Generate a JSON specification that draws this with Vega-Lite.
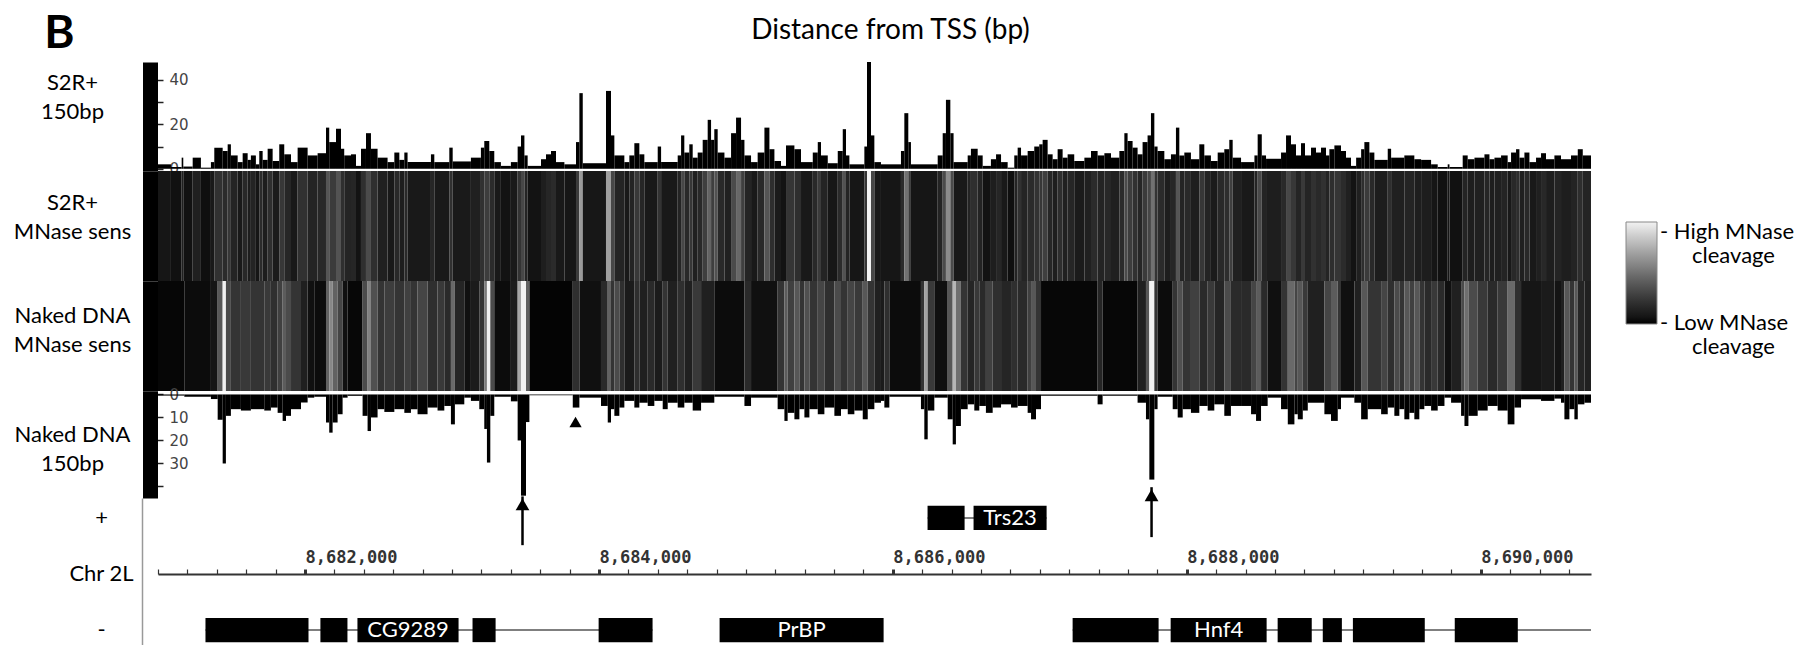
{
"$schema": "https://vega.github.io/schema/vega-lite/v6.json",
"padding": {"left": 13, "top": 10, "right": 5, "bottom": 0},
"bounds": "flush",
"spacing": 0,
"title": {"text": "B", "anchor": "start", "frame": "bounds", "font": "Lato", "fontSize": 46, "fontWeight": "bold", "color": "black", "offset": 0, "dy": 40.5, "dx": 31},
"resolve": {"scale": {"color": "independent"}},
"config": {"view": {"stroke": null}, "axis": {"grid": false}, "text": {"font": "Lato"}},
"datasets": {
"s2r": [
{"s":8681000,"e":8681088,"v":2},{"s":8681088,"e":8681161,"v":0.8},{"s":8681161,"e":8681172,"v":5},{"s":8681172,"e":8681236,"v":1},{"s":8681236,"e":8681292,"v":5},{"s":8681292,"e":8681360,"v":0.5},{"s":8681360,"e":8681383,"v":3},{"s":8681383,"e":8681440,"v":9.5},{"s":8681440,"e":8681474,"v":8},{"s":8681474,"e":8681496,"v":11},{"s":8681496,"e":8681542,"v":6},{"s":8681542,"e":8681576,"v":3},{"s":8681576,"e":8681610,"v":7},{"s":8681610,"e":8681632,"v":4},{"s":8681632,"e":8681666,"v":6},{"s":8681666,"e":8681689,"v":2},{"s":8681689,"e":8681712,"v":8},{"s":8681712,"e":8681746,"v":4},{"s":8681746,"e":8681780,"v":9},{"s":8681780,"e":8681825,"v":3.5},{"s":8681825,"e":8681859,"v":11},{"s":8681859,"e":8681905,"v":6.5},{"s":8681905,"e":8681950,"v":3},{"s":8681950,"e":8682018,"v":9.5},{"s":8682018,"e":8682086,"v":6},{"s":8682086,"e":8682143,"v":7},{"s":8682143,"e":8682165,"v":18.5},{"s":8682165,"e":8682211,"v":12},{"s":8682211,"e":8682245,"v":18},{"s":8682245,"e":8682267,"v":9},{"s":8682267,"e":8682313,"v":6},{"s":8682313,"e":8682347,"v":6.5},{"s":8682347,"e":8682381,"v":1.3},{"s":8682381,"e":8682415,"v":9},{"s":8682415,"e":8682449,"v":16},{"s":8682449,"e":8682494,"v":9},{"s":8682494,"e":8682562,"v":5},{"s":8682562,"e":8682608,"v":3},{"s":8682608,"e":8682642,"v":7.3},{"s":8682642,"e":8682676,"v":4},{"s":8682676,"e":8682698,"v":7.3},{"s":8682698,"e":8682857,"v":3},{"s":8682857,"e":8682880,"v":6.5},{"s":8682880,"e":8682982,"v":3},{"s":8682982,"e":8683005,"v":9.5},{"s":8683005,"e":8683129,"v":3.3},{"s":8683129,"e":8683197,"v":5},{"s":8683197,"e":8683220,"v":9.5},{"s":8683220,"e":8683254,"v":12.5},{"s":8683254,"e":8683288,"v":8},{"s":8683288,"e":8683333,"v":3},{"s":8683333,"e":8683401,"v":1.3},
{"s":8683401,"e":8683447,"v":3},{"s":8683447,"e":8683470,"v":10},{"s":8683470,"e":8683493,"v":15},{"s":8683493,"e":8683515,"v":6},{"s":8683515,"e":8683606,"v":1.3},{"s":8683606,"e":8683640,"v":4.3},{"s":8683640,"e":8683674,"v":6.5},{"s":8683674,"e":8683708,"v":8},{"s":8683708,"e":8683765,"v":3},{"s":8683765,"e":8683844,"v":2},{"s":8683844,"e":8683867,"v":12},{"s":8683867,"e":8683890,"v":34},{"s":8683890,"e":8684048,"v":2.5},{"s":8684048,"e":8684082,"v":35},{"s":8684082,"e":8684105,"v":15},{"s":8684105,"e":8684173,"v":6},{"s":8684173,"e":8684207,"v":3},{"s":8684207,"e":8684241,"v":6},{"s":8684241,"e":8684275,"v":11.5},{"s":8684275,"e":8684309,"v":6.5},{"s":8684309,"e":8684400,"v":3},{"s":8684400,"e":8684423,"v":10},{"s":8684423,"e":8684536,"v":3},{"s":8684536,"e":8684559,"v":6},{"s":8684559,"e":8684581,"v":15},{"s":8684581,"e":8684615,"v":7.3},{"s":8684615,"e":8684638,"v":11},{"s":8684638,"e":8684672,"v":5},{"s":8684672,"e":8684706,"v":7.3},{"s":8684706,"e":8684740,"v":13},{"s":8684740,"e":8684763,"v":22},{"s":8684763,"e":8684785,"v":13},{"s":8684785,"e":8684808,"v":17.8},{"s":8684808,"e":8684854,"v":7.3},{"s":8684854,"e":8684899,"v":5},{"s":8684899,"e":8684933,"v":16},{"s":8684933,"e":8684967,"v":23},{"s":8684967,"e":8684990,"v":13},{"s":8684990,"e":8685035,"v":6},{"s":8685035,"e":8685080,"v":3},{"s":8685080,"e":8685126,"v":7.3},{"s":8685126,"e":8685160,"v":18.5},{"s":8685160,"e":8685194,"v":8.8},{"s":8685194,"e":8685239,"v":3.5},{"s":8685239,"e":8685273,"v":1.3},{"s":8685273,"e":8685330,"v":10.5},{"s":8685330,"e":8685375,"v":8.8},{"s":8685375,"e":8685455,"v":3},{"s":8685455,"e":8685489,"v":7.3},{"s":8685489,"e":8685511,"v":12},{"s":8685511,"e":8685557,"v":6},{"s":8685557,"e":8685625,"v":2.5},{"s":8685625,"e":8685659,"v":8},{"s":8685659,"e":8685681,"v":17.8},{"s":8685681,"e":8685704,"v":6},{"s":8685704,"e":8685806,"v":2},{"s":8685806,"e":8685824,"v":10},{"s":8685824,"e":8685851,"v":52},{"s":8685851,"e":8685874,"v":15},{"s":8685874,"e":8685919,"v":3},
{"s":8685919,"e":8686055,"v":2},{"s":8686055,"e":8686078,"v":8},{"s":8686078,"e":8686105,"v":25},{"s":8686105,"e":8686123,"v":12},{"s":8686123,"e":8686305,"v":2},{"s":8686305,"e":8686339,"v":6},{"s":8686339,"e":8686361,"v":16},{"s":8686361,"e":8686391,"v":31},{"s":8686391,"e":8686413,"v":16},{"s":8686413,"e":8686509,"v":3},{"s":8686509,"e":8686531,"v":6},{"s":8686531,"e":8686577,"v":9},{"s":8686577,"e":8686611,"v":6},{"s":8686611,"e":8686667,"v":1.3},{"s":8686667,"e":8686702,"v":4.3},{"s":8686702,"e":8686736,"v":6.5},{"s":8686736,"e":8686781,"v":3},{"s":8686781,"e":8686826,"v":0.5},{"s":8686826,"e":8686849,"v":6},{"s":8686849,"e":8686872,"v":9.5},{"s":8686872,"e":8686917,"v":6},{"s":8686917,"e":8686962,"v":8},{"s":8686962,"e":8686996,"v":10},{"s":8686996,"e":8687019,"v":11},{"s":8687019,"e":8687053,"v":13},{"s":8687053,"e":8687087,"v":6.5},{"s":8687087,"e":8687121,"v":4.3},{"s":8687121,"e":8687155,"v":8.8},{"s":8687155,"e":8687189,"v":5},{"s":8687189,"e":8687234,"v":6.5},{"s":8687234,"e":8687303,"v":3.5},{"s":8687303,"e":8687348,"v":5},{"s":8687348,"e":8687393,"v":8},{"s":8687393,"e":8687439,"v":6},{"s":8687439,"e":8687484,"v":7},{"s":8687484,"e":8687541,"v":5},{"s":8687541,"e":8687575,"v":8},{"s":8687575,"e":8687597,"v":16},{"s":8687597,"e":8687631,"v":12.5},{"s":8687631,"e":8687665,"v":9.5},{"s":8687665,"e":8687699,"v":6.5},{"s":8687699,"e":8687733,"v":12},{"s":8687733,"e":8687756,"v":15},{"s":8687756,"e":8687779,"v":25},{"s":8687779,"e":8687801,"v":10},{"s":8687801,"e":8687847,"v":8},{"s":8687847,"e":8687892,"v":4.3},{"s":8687892,"e":8687926,"v":6.5},{"s":8687926,"e":8687949,"v":18.5},{"s":8687949,"e":8687983,"v":6},{"s":8687983,"e":8688028,"v":7.3},{"s":8688028,"e":8688085,"v":4.3},{"s":8688085,"e":8688119,"v":11},{"s":8688119,"e":8688164,"v":6},{"s":8688164,"e":8688210,"v":3.5},{"s":8688210,"e":8688255,"v":7.3},{"s":8688255,"e":8688289,"v":8.8},{"s":8688289,"e":8688312,"v":13},{"s":8688312,"e":8688369,"v":5},
{"s":8688369,"e":8688460,"v":3},{"s":8688460,"e":8688482,"v":6},{"s":8688482,"e":8688510,"v":15.5},{"s":8688510,"e":8688539,"v":6},{"s":8688539,"e":8688641,"v":4.5},{"s":8688641,"e":8688675,"v":7.3},{"s":8688675,"e":8688709,"v":15},{"s":8688709,"e":8688743,"v":11},{"s":8688743,"e":8688777,"v":6},{"s":8688777,"e":8688804,"v":11.5},{"s":8688804,"e":8688845,"v":6},{"s":8688845,"e":8688879,"v":9.5},{"s":8688879,"e":8688913,"v":7.3},{"s":8688913,"e":8688947,"v":9.5},{"s":8688947,"e":8688970,"v":6},{"s":8688970,"e":8689004,"v":8.8},{"s":8689004,"e":8689049,"v":10.5},{"s":8689049,"e":8689083,"v":8},{"s":8689083,"e":8689117,"v":5},{"s":8689117,"e":8689152,"v":1.3},{"s":8689152,"e":8689186,"v":5},{"s":8689186,"e":8689208,"v":8.8},{"s":8689208,"e":8689242,"v":12},{"s":8689242,"e":8689276,"v":7.3},{"s":8689276,"e":8689367,"v":4},{"s":8689367,"e":8689390,"v":9},{"s":8689390,"e":8689480,"v":5},{"s":8689480,"e":8689548,"v":6},{"s":8689548,"e":8689594,"v":4.3},{"s":8689594,"e":8689662,"v":4},{"s":8689662,"e":8689707,"v":2},{"s":8689707,"e":8689775,"v":0.8},{"s":8689775,"e":8689787,"v":2},{"s":8689787,"e":8689877,"v":0.8},{"s":8689877,"e":8689911,"v":6},{"s":8689911,"e":8689957,"v":4.3},{"s":8689957,"e":8690025,"v":5},{"s":8690025,"e":8690059,"v":6.5},{"s":8690059,"e":8690093,"v":4.3},{"s":8690093,"e":8690138,"v":5},{"s":8690138,"e":8690183,"v":6},{"s":8690183,"e":8690206,"v":3},{"s":8690206,"e":8690240,"v":7.3},{"s":8690240,"e":8690263,"v":8.8},{"s":8690263,"e":8690297,"v":5},{"s":8690297,"e":8690331,"v":7.3},{"s":8690331,"e":8690376,"v":3},{"s":8690376,"e":8690410,"v":5},{"s":8690410,"e":8690444,"v":7},{"s":8690444,"e":8690501,"v":4.3},{"s":8690501,"e":8690546,"v":6},{"s":8690546,"e":8690614,"v":4.3},{"s":8690614,"e":8690660,"v":6},{"s":8690660,"e":8690694,"v":8.8},{"s":8690694,"e":8690750,"v":6}
],
"naked": [
{"s":8681000,"e":8681179,"v":0.5},{"s":8681179,"e":8681360,"v":1},{"s":8681360,"e":8681406,"v":2},{"s":8681406,"e":8681440,"v":11},{"s":8681440,"e":8681462,"v":30},{"s":8681462,"e":8681496,"v":9.3},{"s":8681496,"e":8681564,"v":6.4},{"s":8681564,"e":8681632,"v":7},{"s":8681632,"e":8681723,"v":6.4},{"s":8681723,"e":8681768,"v":7},{"s":8681768,"e":8681814,"v":5.7},{"s":8681814,"e":8681848,"v":8},{"s":8681848,"e":8681871,"v":11.5},{"s":8681871,"e":8681905,"v":9.3},{"s":8681905,"e":8681973,"v":6.4},{"s":8681973,"e":8682018,"v":3.5},{"s":8682018,"e":8682063,"v":1.4},{"s":8682063,"e":8682143,"v":1},{"s":8682143,"e":8682165,"v":12.2},{"s":8682165,"e":8682188,"v":16.6},{"s":8682188,"e":8682222,"v":12.2},{"s":8682222,"e":8682256,"v":8.6},{"s":8682256,"e":8682290,"v":1.4},{"s":8682290,"e":8682392,"v":0.6},{"s":8682392,"e":8682426,"v":9.3},{"s":8682426,"e":8682449,"v":15.9},{"s":8682449,"e":8682494,"v":10},{"s":8682494,"e":8682540,"v":6.4},{"s":8682540,"e":8682608,"v":7.6},{"s":8682608,"e":8682676,"v":6.4},{"s":8682676,"e":8682721,"v":8},{"s":8682721,"e":8682766,"v":6.4},{"s":8682766,"e":8682834,"v":8.6},{"s":8682834,"e":8682902,"v":5.7},{"s":8682902,"e":8682948,"v":7},{"s":8682948,"e":8682993,"v":5},{"s":8682993,"e":8683020,"v":13},{"s":8683020,"e":8683084,"v":4.3},{"s":8683084,"e":8683129,"v":1.4},{"s":8683129,"e":8683186,"v":2.8},{"s":8683186,"e":8683220,"v":6.4},{"s":8683220,"e":8683238,"v":15},{"s":8683238,"e":8683261,"v":29.6},{"s":8683261,"e":8683288,"v":9.3},{"s":8683288,"e":8683401,"v":1},
{"s":8683401,"e":8683447,"v":3},{"s":8683447,"e":8683470,"v":20},{"s":8683470,"e":8683504,"v":44},{"s":8683504,"e":8683527,"v":12},{"s":8683527,"e":8683822,"v":0.3},{"s":8683822,"e":8683867,"v":5.7},{"s":8683867,"e":8684014,"v":1.4},{"s":8684014,"e":8684060,"v":5},{"s":8684060,"e":8684082,"v":12.2},{"s":8684082,"e":8684105,"v":6.4},{"s":8684105,"e":8684139,"v":9.3},{"s":8684139,"e":8684173,"v":5.7},{"s":8684173,"e":8684241,"v":2.8},{"s":8684241,"e":8684275,"v":5.7},{"s":8684275,"e":8684332,"v":3.6},{"s":8684332,"e":8684377,"v":5},{"s":8684377,"e":8684434,"v":2.8},{"s":8684434,"e":8684468,"v":6.4},{"s":8684468,"e":8684536,"v":3.6},{"s":8684536,"e":8684581,"v":5.7},{"s":8684581,"e":8684638,"v":3.6},{"s":8684638,"e":8684695,"v":7},{"s":8684695,"e":8684785,"v":3.6},{"s":8684785,"e":8684990,"v":1},{"s":8684990,"e":8685035,"v":5},{"s":8685035,"e":8685216,"v":1.4},{"s":8685216,"e":8685262,"v":6.4},{"s":8685262,"e":8685284,"v":11.5},{"s":8685284,"e":8685330,"v":8},{"s":8685330,"e":8685364,"v":10.8},{"s":8685364,"e":8685398,"v":6.4},{"s":8685398,"e":8685432,"v":10},{"s":8685432,"e":8685489,"v":6.4},{"s":8685489,"e":8685534,"v":8.6},{"s":8685534,"e":8685602,"v":5.7},{"s":8685602,"e":8685647,"v":9.3},{"s":8685647,"e":8685693,"v":6.4},{"s":8685693,"e":8685738,"v":8.6},{"s":8685738,"e":8685795,"v":7},{"s":8685795,"e":8685829,"v":10.8},{"s":8685829,"e":8685874,"v":6.4},{"s":8685874,"e":8685919,"v":3.6},
{"s":8685919,"e":8685942,"v":2.8},{"s":8685942,"e":8685976,"v":5.7},{"s":8685976,"e":8686191,"v":1},{"s":8686191,"e":8686214,"v":6.4},{"s":8686214,"e":8686237,"v":19.5},{"s":8686237,"e":8686282,"v":7},{"s":8686282,"e":8686373,"v":1.4},{"s":8686373,"e":8686407,"v":10.8},{"s":8686407,"e":8686429,"v":21.7},{"s":8686429,"e":8686463,"v":13.7},{"s":8686463,"e":8686509,"v":6.4},{"s":8686509,"e":8686554,"v":4.3},{"s":8686554,"e":8686588,"v":7},{"s":8686588,"e":8686633,"v":5},{"s":8686633,"e":8686679,"v":8},{"s":8686679,"e":8686736,"v":5.7},{"s":8686736,"e":8686804,"v":4.3},{"s":8686804,"e":8686849,"v":5.7},{"s":8686849,"e":8686917,"v":5},{"s":8686917,"e":8686940,"v":8},{"s":8686940,"e":8686974,"v":10.8},{"s":8686974,"e":8687008,"v":6.4},{"s":8687008,"e":8687393,"v":0.6},{"s":8687393,"e":8687427,"v":4.3},{"s":8687427,"e":8687665,"v":0.6},{"s":8687665,"e":8687722,"v":3.6},{"s":8687722,"e":8687745,"v":10.8},{"s":8687745,"e":8687779,"v":37},{"s":8687779,"e":8687801,"v":6.4},{"s":8687801,"e":8687904,"v":1},{"s":8687904,"e":8687938,"v":6.4},{"s":8687938,"e":8687972,"v":10},{"s":8687972,"e":8688028,"v":6.4},{"s":8688028,"e":8688085,"v":8},{"s":8688085,"e":8688142,"v":5},{"s":8688142,"e":8688187,"v":7},{"s":8688187,"e":8688255,"v":4.3},{"s":8688255,"e":8688300,"v":9.3},{"s":8688300,"e":8688369,"v":5},
{"s":8688369,"e":8688437,"v":5},{"s":8688437,"e":8688471,"v":8.6},{"s":8688471,"e":8688505,"v":11.5},{"s":8688505,"e":8688550,"v":5},{"s":8688550,"e":8688641,"v":1.4},{"s":8688641,"e":8688687,"v":6.4},{"s":8688687,"e":8688732,"v":13},{"s":8688732,"e":8688755,"v":8.6},{"s":8688755,"e":8688789,"v":10.8},{"s":8688789,"e":8688823,"v":7},{"s":8688823,"e":8688936,"v":3.6},{"s":8688936,"e":8688981,"v":8.6},{"s":8688981,"e":8689027,"v":11.5},{"s":8689027,"e":8689049,"v":6.4},{"s":8689049,"e":8689140,"v":1.4},{"s":8689140,"e":8689186,"v":3.6},{"s":8689186,"e":8689231,"v":10.8},{"s":8689231,"e":8689322,"v":6.4},{"s":8689322,"e":8689367,"v":8.6},{"s":8689367,"e":8689412,"v":5.7},{"s":8689412,"e":8689446,"v":9.3},{"s":8689446,"e":8689480,"v":6.4},{"s":8689480,"e":8689514,"v":10.8},{"s":8689514,"e":8689548,"v":8},{"s":8689548,"e":8689582,"v":10.8},{"s":8689582,"e":8689616,"v":6.4},{"s":8689616,"e":8689662,"v":5},{"s":8689662,"e":8689707,"v":7},{"s":8689707,"e":8689753,"v":5},{"s":8689753,"e":8689798,"v":1.4},{"s":8689798,"e":8689866,"v":3.6},{"s":8689866,"e":8689889,"v":9.3},{"s":8689889,"e":8689916,"v":13.7},{"s":8689916,"e":8689979,"v":9.3},{"s":8689979,"e":8690047,"v":7},{"s":8690047,"e":8690115,"v":5},{"s":8690115,"e":8690183,"v":7},{"s":8690183,"e":8690229,"v":13},{"s":8690229,"e":8690274,"v":5.7},{"s":8690274,"e":8690410,"v":2.1},{"s":8690410,"e":8690501,"v":2.8},{"s":8690501,"e":8690546,"v":1.8},{"s":8690546,"e":8690569,"v":3.6},{"s":8690569,"e":8690603,"v":10.8},{"s":8690603,"e":8690637,"v":6.4},{"s":8690637,"e":8690660,"v":10.8},{"s":8690660,"e":8690705,"v":4.3},{"s":8690705,"e":8690750,"v":3.6}
],
"exons": [
{"gene":"CG9289","strand":"-","s":8681323,"e":8682024,"label":""},
{"gene":"CG9289","strand":"-","s":8682105,"e":8682289,"label":""},
{"gene":"CG9289","strand":"-","s":8682357,"e":8683045,"label":"CG9289"},
{"gene":"CG9289","strand":"-","s":8683140,"e":8683297,"label":""},
{"gene":"CG9289","strand":"-","s":8683998,"e":8684365,"label":""},
{"gene":"PrBP","strand":"-","s":8684821,"e":8685937,"label":"PrBP"},
{"gene":"Trs23","strand":"+","s":8686236,"e":8686488,"label":""},
{"gene":"Trs23","strand":"+","s":8686549,"e":8687046,"label":"Trs23"},
{"gene":"Hnf4","strand":"-","s":8687223,"e":8687808,"label":""},
{"gene":"Hnf4","strand":"-","s":8687890,"e":8688543,"label":"Hnf4"},
{"gene":"Hnf4","strand":"-","s":8688618,"e":8688850,"label":""},
{"gene":"Hnf4","strand":"-","s":8688925,"e":8689055,"label":""},
{"gene":"Hnf4","strand":"-","s":8689130,"e":8689619,"label":""},
{"gene":"Hnf4","strand":"-","s":8689823,"e":8690252,"label":""}
],
"introns": [
{"gene":"CG9289","strand":"-","s":8681323,"e":8684365},
{"gene":"Trs23","strand":"+","s":8686236,"e":8687046},
{"gene":"Hnf4","strand":"-","s":8687223,"e":8690750}
],
"annot": [
{"kind":"arrow","pos":8683480,"tip":44.3,"tail":65.5},
{"kind":"arrow","pos":8687760,"tip":40.3,"tail":62},
{"kind":"marker","pos":8683841,"tip":12}
]
},
"vconcat": [
{
"width": 1433, "height": 109,
"title": {"text": "Distance from TSS (bp)", "anchor": "middle", "offset": 17, "dx": 16, "font": "Lato", "fontSize": 28, "fontWeight": "normal", "color": "black"},
"data": {"name": "s2r"},
"mark": {"type": "rect", "color": "black", "clip": true},
"encoding": {
"x": {"field": "s", "type": "quantitative", "scale": {"domain": [8681000, 8690750], "nice": false, "zero": false}, "axis": null},
"x2": {"field": "e"},
"y": {"field": "v", "type": "quantitative", "scale": {"domain": [-1, 48], "nice": false, "zero": false},
 "axis": {"title": ["S2R+", "150bp"], "titleAngle": 0, "titleAlign": "center", "titleBaseline": "middle", "titleX": -78, "titleY": 20, "titleFont": "Lato", "titleFontSize": 22, "titleFontWeight": "normal", "titleColor": "black", "titleLineHeight": 29,
  "values": [0, 10, 20, 30, 40], "offset": 8, "domainColor": "black", "domainWidth": 15, "domainCap": "butt",
  "tickSize": -13, "tickColor": "#222", "tickWidth": 1.5,
  "labelExpr": "datum.value % 20 === 0 ? datum.label : ''", "labelAlign": "left", "labelPadding": -6, "labelFont": "DejaVu Sans", "labelFontSize": 15, "labelColor": "#444", "labelBaseline": "middle", "labelFlush": false, "labelOverlap": false}},
"y2": {"datum": 0}
}
},
{
"width": 1433, "height": 110,
"data": {"name": "s2r"},
"mark": {"type": "rect"},
"encoding": {
"x": {"field": "s", "type": "quantitative", "scale": {"domain": [8681000, 8690750], "nice": false, "zero": false}, "axis": null},
"x2": {"field": "e"},
"y": {"datum": 0, "type": "quantitative", "scale": {"domain": [0, 1], "nice": false},
 "axis": {"title": ["S2R+", "MNase sens"], "titleAngle": 0, "titleAlign": "center", "titleBaseline": "middle", "titleX": -78, "titleY": 31, "titleFont": "Lato", "titleFontSize": 22, "titleFontWeight": "normal", "titleColor": "black", "titleLineHeight": 29,
  "offset": 8, "domainColor": "black", "domainWidth": 15, "domainCap": "butt", "ticks": false, "labels": false}},
"y2": {"datum": 1},
"color": {"field": "v", "type": "quantitative", "scale": {"domain": [-2, 52], "range": ["#000000", "#f2f2f2"], "clamp": true}, "legend": null}
}
},
{
"width": 1433, "height": 110,
"data": {"name": "naked"},
"mark": {"type": "rect"},
"encoding": {
"x": {"field": "s", "type": "quantitative", "scale": {"domain": [8681000, 8690750], "nice": false, "zero": false}, "axis": null},
"x2": {"field": "e"},
"y": {"datum": 0, "type": "quantitative", "scale": {"domain": [0, 1], "nice": false},
 "axis": {"title": ["Naked DNA", "MNase sens"], "titleAngle": 0, "titleAlign": "center", "titleBaseline": "middle", "titleX": -78, "titleY": 34, "titleFont": "Lato", "titleFontSize": 22, "titleFontWeight": "normal", "titleColor": "black", "titleLineHeight": 29,
  "offset": 8, "domainColor": "black", "domainWidth": 15, "domainCap": "butt", "ticks": false, "labels": false}},
"y2": {"datum": 1},
"color": {"field": "v", "type": "quantitative", "scale": {"domain": [0, 28], "range": ["#000000", "#f2f2f2"], "clamp": true},
 "legend": {"orient": "none", "legendX": 1468, "legendY": -59, "direction": "vertical", "title": null, "padding": 0,
  "gradientLength": 102, "gradientThickness": 31, "gradientStrokeColor": "#888", "gradientStrokeWidth": 1,
  "values": [0.3, 28], "labelExpr": "datum.value > 10 ? ['- High MNase', '\u2800\u2800cleavage'] : ['- Low MNase', '\u2800\u2800cleavage']",
  "labelFont": "Lato", "labelFontSize": 22, "labelColor": "black", "labelOverlap": false, "labelOffset": 3, "labelLimit": 0}}
}
},
{
"width": 1433, "height": 107,
"layer": [
{
"data": {"name": "naked"},
"mark": {"type": "rect", "color": "black", "clip": true},
"encoding": {
"x": {"field": "s", "type": "quantitative", "scale": {"domain": [8681000, 8690750], "nice": false, "zero": false}, "axis": null},
"x2": {"field": "e"},
"y": {"field": "v", "type": "quantitative", "scale": {"domain": [-1.5, 45], "nice": false, "zero": false, "reverse": true},
 "axis": {"title": ["Naked DNA", "150bp"], "titleAngle": 0, "titleAlign": "center", "titleBaseline": "middle", "titleX": -78, "titleY": 43, "titleFont": "Lato", "titleFontSize": 22, "titleFontWeight": "normal", "titleColor": "black", "titleLineHeight": 29,
  "values": [0, 10, 20, 30, 40], "offset": 8, "domainColor": "black", "domainWidth": 15, "domainCap": "butt",
  "tickSize": -13, "tickColor": "#222", "tickWidth": 1.5,
  "labelExpr": "datum.value < 40 ? datum.label : ''", "labelAlign": "left", "labelPadding": -6, "labelFont": "DejaVu Sans", "labelFontSize": 15, "labelColor": "#444", "labelBaseline": "middle", "labelFlush": false, "labelOverlap": false}},
"y2": {"datum": 0}
}
},
{
"data": {"name": "annot"},
"transform": [{"filter": "datum.kind === 'arrow'"}],
"mark": {"type": "rule", "color": "black", "strokeWidth": 2.5},
"encoding": {
"x": {"field": "pos", "type": "quantitative", "axis": null},
"y": {"field": "tip", "type": "quantitative",
 "axis": {"title": ["Naked DNA", "150bp"], "titleAngle": 0, "titleAlign": "center", "titleBaseline": "middle", "titleX": -78, "titleY": 43, "titleFont": "Lato", "titleFontSize": 22, "titleFontWeight": "normal", "titleColor": "black", "titleLineHeight": 29,
  "values": [0, 10, 20, 30, 40], "offset": 8, "domainColor": "black", "domainWidth": 15, "domainCap": "butt",
  "tickSize": -13, "tickColor": "#222", "tickWidth": 1.5,
  "labelExpr": "datum.value < 40 ? datum.label : ''", "labelAlign": "left", "labelPadding": -6, "labelFont": "DejaVu Sans", "labelFontSize": 15, "labelColor": "#444", "labelBaseline": "middle", "labelFlush": false, "labelOverlap": false}},
"y2": {"field": "tail"}
}
},
{
"data": {"name": "annot"},
"transform": [{"filter": "datum.kind === 'arrow'"}],
"mark": {"type": "point", "shape": "triangle-up", "filled": true, "color": "black", "opacity": 1, "size": 190, "yOffset": 8},
"encoding": {
"x": {"field": "pos", "type": "quantitative", "axis": null},
"y": {"field": "tip", "type": "quantitative",
 "axis": {"title": ["Naked DNA", "150bp"], "titleAngle": 0, "titleAlign": "center", "titleBaseline": "middle", "titleX": -78, "titleY": 43, "titleFont": "Lato", "titleFontSize": 22, "titleFontWeight": "normal", "titleColor": "black", "titleLineHeight": 29,
  "values": [0, 10, 20, 30, 40], "offset": 8, "domainColor": "black", "domainWidth": 15, "domainCap": "butt",
  "tickSize": -13, "tickColor": "#222", "tickWidth": 1.5,
  "labelExpr": "datum.value < 40 ? datum.label : ''", "labelAlign": "left", "labelPadding": -6, "labelFont": "DejaVu Sans", "labelFontSize": 15, "labelColor": "#444", "labelBaseline": "middle", "labelFlush": false, "labelOverlap": false}}
}
},
{
"data": {"name": "annot"},
"transform": [{"filter": "datum.kind === 'marker'"}],
"mark": {"type": "point", "shape": "triangle-up", "filled": true, "color": "black", "opacity": 1, "size": 150},
"encoding": {
"x": {"field": "pos", "type": "quantitative", "axis": null},
"y": {"field": "tip", "type": "quantitative",
 "axis": {"title": ["Naked DNA", "150bp"], "titleAngle": 0, "titleAlign": "center", "titleBaseline": "middle", "titleX": -78, "titleY": 43, "titleFont": "Lato", "titleFontSize": 22, "titleFontWeight": "normal", "titleColor": "black", "titleLineHeight": 29,
  "values": [0, 10, 20, 30, 40], "offset": 8, "domainColor": "black", "domainWidth": 15, "domainCap": "butt",
  "tickSize": -13, "tickColor": "#222", "tickWidth": 1.5,
  "labelExpr": "datum.value < 40 ? datum.label : ''", "labelAlign": "left", "labelPadding": -6, "labelFont": "DejaVu Sans", "labelFontSize": 15, "labelColor": "#444", "labelBaseline": "middle", "labelFlush": false, "labelOverlap": false}}
}
}
]
},
{
"width": 1433, "height": 152,
"layer": [
{
"data": {"name": "introns"},
"mark": {"type": "rule", "color": "#555", "strokeWidth": 1.5},
"encoding": {
"x": {"field": "s", "type": "quantitative", "scale": {"domain": [8681000, 8690750], "nice": false, "zero": false},
 "axis": {"orient": "top", "offset": -76, "values": [8681000,8681200,8681400,8681600,8681800,8682000,8682200,8682400,8682600,8682800,8683000,8683200,8683400,8683600,8683800,8684000,8684200,8684400,8684600,8684800,8685000,8685200,8685400,8685600,8685800,8686000,8686200,8686400,8686600,8686800,8687000,8687200,8687400,8687600,8687800,8688000,8688200,8688400,8688600,8688800,8689000,8689200,8689400,8689600,8689800,8690000,8690200,8690400,8690600],
  "title": null, "domainColor": "#333", "domainWidth": 2, "tickColor": "#333", "tickSize": 5,
  "tickWidth": {"condition": {"test": "datum.value % 2000 === 0", "value": 3}, "value": 1.2},
  "labelExpr": "datum.value % 2000 === 0 ? format(datum.value, ',') : ''", "labelAlign": "left", "labelBaseline": "bottom", "labelPadding": 3,
  "labelFont": "DejaVu Sans Mono", "labelFontWeight": "bold", "labelFontSize": 17, "labelColor": "#333", "labelFlush": false, "labelOverlap": false, "labelBound": false}},
"x2": {"field": "e"},
"y": {"field": "strand", "type": "nominal", "scale": {"domain": ["+", "Chr 2L", "-"], "paddingInner": 0.571, "paddingOuter": 0.14},
 "axis": {"title": null, "offset": 16, "ticks": false, "tickSize": 0, "labelPadding": 41, "labelAlign": "center", "labelBaseline": "middle", "labelFont": "Lato", "labelFontSize": 22, "labelColor": "black", "domainColor": "#999", "domainWidth": 1.5}}
}
},
{
"data": {"name": "exons"},
"mark": {"type": "rect", "color": "black"},
"encoding": {
"x": {"field": "s", "type": "quantitative",
 "axis": {"orient": "top", "offset": -76, "values": [8681000,8681200,8681400,8681600,8681800,8682000,8682200,8682400,8682600,8682800,8683000,8683200,8683400,8683600,8683800,8684000,8684200,8684400,8684600,8684800,8685000,8685200,8685400,8685600,8685800,8686000,8686200,8686400,8686600,8686800,8687000,8687200,8687400,8687600,8687800,8688000,8688200,8688400,8688600,8688800,8689000,8689200,8689400,8689600,8689800,8690000,8690200,8690400,8690600],
  "title": null, "domainColor": "#333", "domainWidth": 2, "tickColor": "#333", "tickSize": 5,
  "tickWidth": {"condition": {"test": "datum.value % 2000 === 0", "value": 3}, "value": 1.2},
  "labelExpr": "datum.value % 2000 === 0 ? format(datum.value, ',') : ''", "labelAlign": "left", "labelBaseline": "bottom", "labelPadding": 3,
  "labelFont": "DejaVu Sans Mono", "labelFontWeight": "bold", "labelFontSize": 17, "labelColor": "#333", "labelFlush": false, "labelOverlap": false, "labelBound": false}},
"x2": {"field": "e"},
"y": {"field": "strand", "type": "nominal"}
}
},
{
"data": {"name": "exons"},
"transform": [{"filter": "datum.label !== ''"}, {"calculate": "(datum.s + datum.e) / 2", "as": "mid"}],
"mark": {"type": "text", "color": "white", "font": "Lato", "fontSize": 22, "baseline": "middle", "align": "center"},
"encoding": {
"x": {"field": "mid", "type": "quantitative",
 "axis": {"orient": "top", "offset": -76, "values": [8681000,8681200,8681400,8681600,8681800,8682000,8682200,8682400,8682600,8682800,8683000,8683200,8683400,8683600,8683800,8684000,8684200,8684400,8684600,8684800,8685000,8685200,8685400,8685600,8685800,8686000,8686200,8686400,8686600,8686800,8687000,8687200,8687400,8687600,8687800,8688000,8688200,8688400,8688600,8688800,8689000,8689200,8689400,8689600,8689800,8690000,8690200,8690400,8690600],
  "title": null, "domainColor": "#333", "domainWidth": 2, "tickColor": "#333", "tickSize": 5,
  "tickWidth": {"condition": {"test": "datum.value % 2000 === 0", "value": 3}, "value": 1.2},
  "labelExpr": "datum.value % 2000 === 0 ? format(datum.value, ',') : ''", "labelAlign": "left", "labelBaseline": "bottom", "labelPadding": 3,
  "labelFont": "DejaVu Sans Mono", "labelFontWeight": "bold", "labelFontSize": 17, "labelColor": "#333", "labelFlush": false, "labelOverlap": false, "labelBound": false}},
"y": {"field": "strand", "type": "nominal"},
"text": {"field": "label"}
}
}
]
}
]
}
